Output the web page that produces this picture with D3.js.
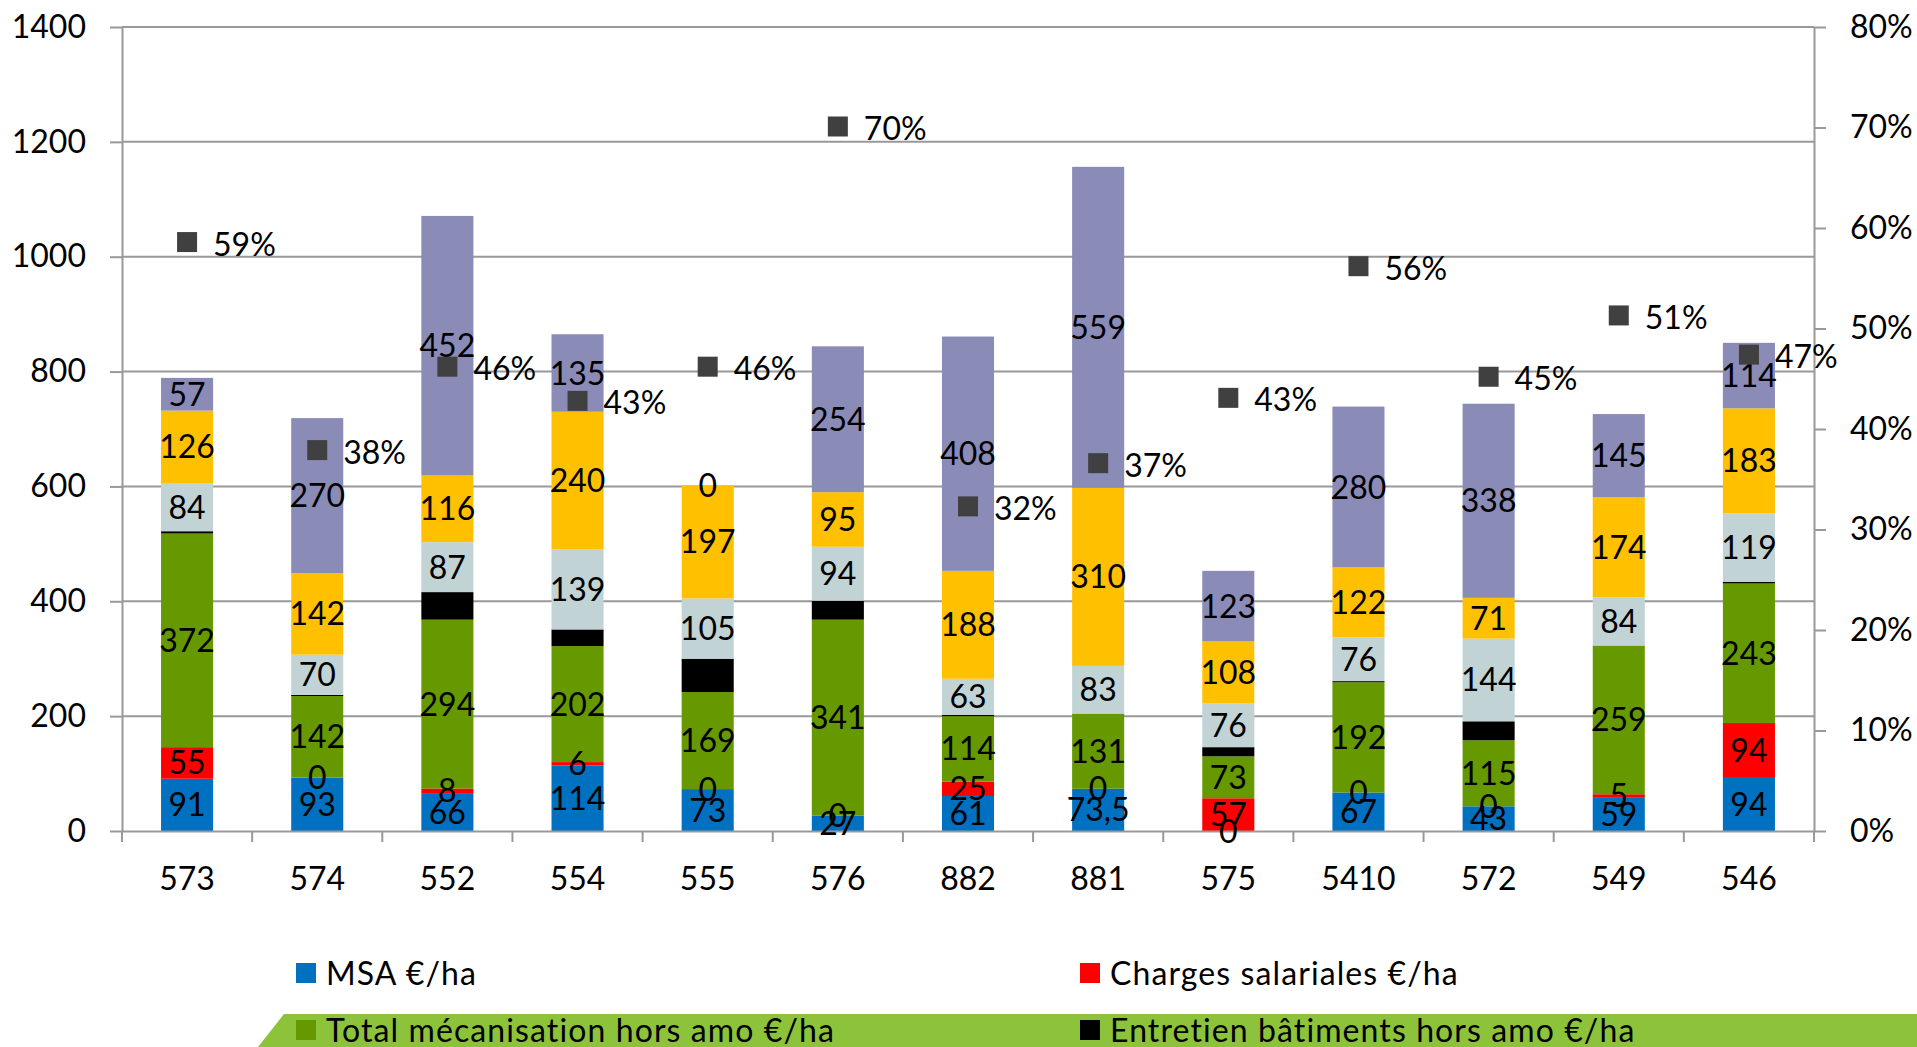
<!DOCTYPE html>
<html>
<head>
<meta charset="utf-8">
<style>
    body { margin: 0; background: #fff; }
    svg { display: block; }
    text { font-family: Lato, "Open Sans", sans-serif; fill: #000; }
</style>
</head>
<body>
<script src="https://cdn.jsdelivr.net/npm/d3@7"></script>
<script>
    const width = 1917;
    const height = 1047;

    // data
    const categories = ["573", "574", "552", "554", "555", "576", "882", "881", "575", "5410", "572", "549", "546"];
    const msa = [91, 93, 66, 114, 73, 27, 61, 73.5, 0, 67, 43, 59, 94];
    const charges = [55, 0, 8, 6, 0, 0, 25, 0, 57, 0, 0, 5, 94];
    const mecanisation = [372, 142, 294, 202, 169, 341, 114, 131, 73, 192, 115, 259, 243];
    const batiments = [4, 2, 48, 29, 58, 33, 2, 0, 16, 2, 33, 0, 3];
    const serie5 = [84, 70, 87, 139, 105, 94, 63, 83, 76, 76, 144, 84, 119];
    const serie6 = [126, 142, 116, 240, 197, 95, 188, 310, 108, 122, 71, 174, 183];
    const serie7 = [57, 270, 452, 135, 0, 254, 408, 559, 123, 280, 338, 145, 114];
    const part = [0.586, 0.379, 0.462, 0.428, 0.462, 0.701, 0.323, 0.366, 0.431, 0.562, 0.452, 0.513, 0.474];

    const leftTicks = [0, 200, 400, 600, 800, 1000, 1200, 1400];
    const rightTicks = [0, 0.1, 0.2, 0.3, 0.4, 0.5, 0.6, 0.7, 0.8];

    const series = [
        { key: "msa", name: "MSA €/ha", color: "#0070C0", values: msa, label: true },
        { key: "charges", name: "Charges salariales €/ha", color: "#FF0000", values: charges, label: true },
        { key: "meca", name: "Total mécanisation hors amo €/ha", color: "#669900", values: mecanisation, label: true },
        { key: "bat", name: "Entretien bâtiments hors amo €/ha", color: "#000000", values: batiments, label: false },
        { key: "s5", name: "", color: "#C2D3D5", values: serie5, label: true },
        { key: "s6", name: "", color: "#FFC000", values: serie6, label: true },
        { key: "s7", name: "", color: "#8B8BB8", values: serie7, label: true }
    ];
    const legendKeys = ["msa", "charges", "meca", "bat"];

    const rows = categories.map((c, i) => {
        const r = { cat: c, part: part[i] };
        series.forEach(s => r[s.key] = s.values[i]);
        return r;
    });

    const m = { left: 122, right: 1814, top: 27, bottom: 831 };
    const gridColor = "#999";

    const svg = d3.select("body").append("svg").attr("width", width).attr("height", height);
    svg.append("rect").attr("width", width).attr("height", height).attr("fill", "#fff");

    const x = d3.scaleBand().domain(categories).range([m.left, m.right])
        .paddingInner(0.6).paddingOuter(0.3);
    const y = d3.scaleLinear().domain([0, 1400]).range([m.bottom, m.top]);
    const yR = d3.scaleLinear().domain([0, 0.8]).range([m.bottom, m.top]);

    // gridlines
    svg.append("g").selectAll("line").data(leftTicks.slice(1)).join("line")
        .attr("x1", m.left).attr("x2", m.right)
        .attr("y1", d => y(d)).attr("y2", d => y(d))
        .attr("stroke", gridColor).attr("stroke-width", 2);

    // left axis
    const gl = svg.append("g").attr("transform", `translate(${m.left},0)`)
        .call(d3.axisLeft(y).tickValues(leftTicks).tickSize(12).tickPadding(24).tickSizeOuter(0)
            .tickFormat(d3.format("d")));
    // right axis
    const gr = svg.append("g").attr("transform", `translate(${m.right},0)`)
        .call(d3.axisRight(yR).tickValues(rightTicks).tickSize(12).tickPadding(24).tickSizeOuter(0)
            .tickFormat(d3.format(".0%")));
    [gl, gr].forEach(g => {
        g.select(".domain").attr("stroke", gridColor).attr("stroke-width", 2);
        g.selectAll(".tick line").attr("stroke", gridColor).attr("stroke-width", 2);
        g.selectAll(".tick text").attr("font-size", 32).attr("font-family", "Lato").attr("fill", "#000");
    });

    // stacked bars
    const stack = d3.stack().keys(series.map(s => s.key));
    const stacked = stack(rows);
    const fmt = v => String(v).replace(".", ",");

    const layers = svg.append("g").selectAll("g").data(stacked).join("g")
        .attr("fill", (d, i) => series[i].color);
    layers.selectAll("rect").data(d => d).join("rect")
        .attr("x", d => x(d.data.cat))
        .attr("width", x.bandwidth())
        .attr("y", d => y(d[1]))
        .attr("height", d => y(d[0]) - y(d[1]));

    // x axis (line at 0, ticks at band edges)
    const gx = svg.append("g").attr("transform", `translate(0,${m.bottom})`)
        .call(d3.axisBottom(x).tickSize(0).tickSizeOuter(0));
    gx.select(".domain").attr("stroke", gridColor).attr("stroke-width", 2);
    gx.selectAll(".tick text").attr("font-size", 32).attr("font-family", "Lato").attr("fill", "#000")
        .attr("y", 47).attr("dy", "0.36em");
    const edges = categories.map(c => x(c) - x.step() * x.paddingOuter()).concat([m.right]);
    gx.append("g").selectAll("line").data(edges).join("line")
        .attr("x1", d => d).attr("x2", d => d).attr("y1", 0).attr("y2", 11)
        .attr("stroke", gridColor).attr("stroke-width", 2);

    // segment labels
    const lab = svg.append("g").attr("font-size", 32).attr("text-anchor", "middle");
    stacked.forEach((layer, i) => {
        if (!series[i].label) return;
        lab.append("g").selectAll("text").data(layer).join("text")
            .attr("x", d => x(d.data.cat) + x.bandwidth() / 2)
            .attr("y", d => (y(d[0]) + y(d[1])) / 2)
            .attr("dy", "0.36em")
            .text(d => fmt(d.data[series[i].key]));
    });

    // percentage points
    const pts = svg.append("g");
    pts.selectAll("rect").data(rows).join("rect")
        .attr("x", d => x(d.cat) + x.bandwidth() / 2 - 10)
        .attr("y", d => yR(d.part) - 10)
        .attr("width", 20).attr("height", 20)
        .attr("fill", "#404040");
    pts.selectAll("text").data(rows).join("text")
        .attr("x", d => x(d.cat) + x.bandwidth() / 2 + 26)
        .attr("y", d => yR(d.part) + 2)
        .attr("dy", "0.36em")
        .attr("font-size", 32)
        .text(d => d3.format(".0%")(d.part));

    // green band at the bottom
    svg.append("path")
        .attr("d", d3.line()([[284, 1014], [width, 1014], [width, height], [258, height]]) + "Z")
        .attr("fill", "#8DC33A");

    // legend
    const legCols = [296, 1080];
    const legRows = [963, 1020];
    const leg = svg.append("g").selectAll("g").data(legendKeys).join("g")
        .attr("transform", (d, i) => `translate(${legCols[i % 2]},${legRows[Math.floor(i / 2)]})`);
    leg.append("rect").attr("width", 20).attr("height", 20)
        .attr("fill", d => series.find(s => s.key === d).color);
    leg.append("text").attr("x", 30).attr("y", 10).attr("dy", "0.36em")
        .attr("font-size", 32).attr("letter-spacing", 1.1)
        .text(d => series.find(s => s.key === d).name);
</script>
</body>
</html>
